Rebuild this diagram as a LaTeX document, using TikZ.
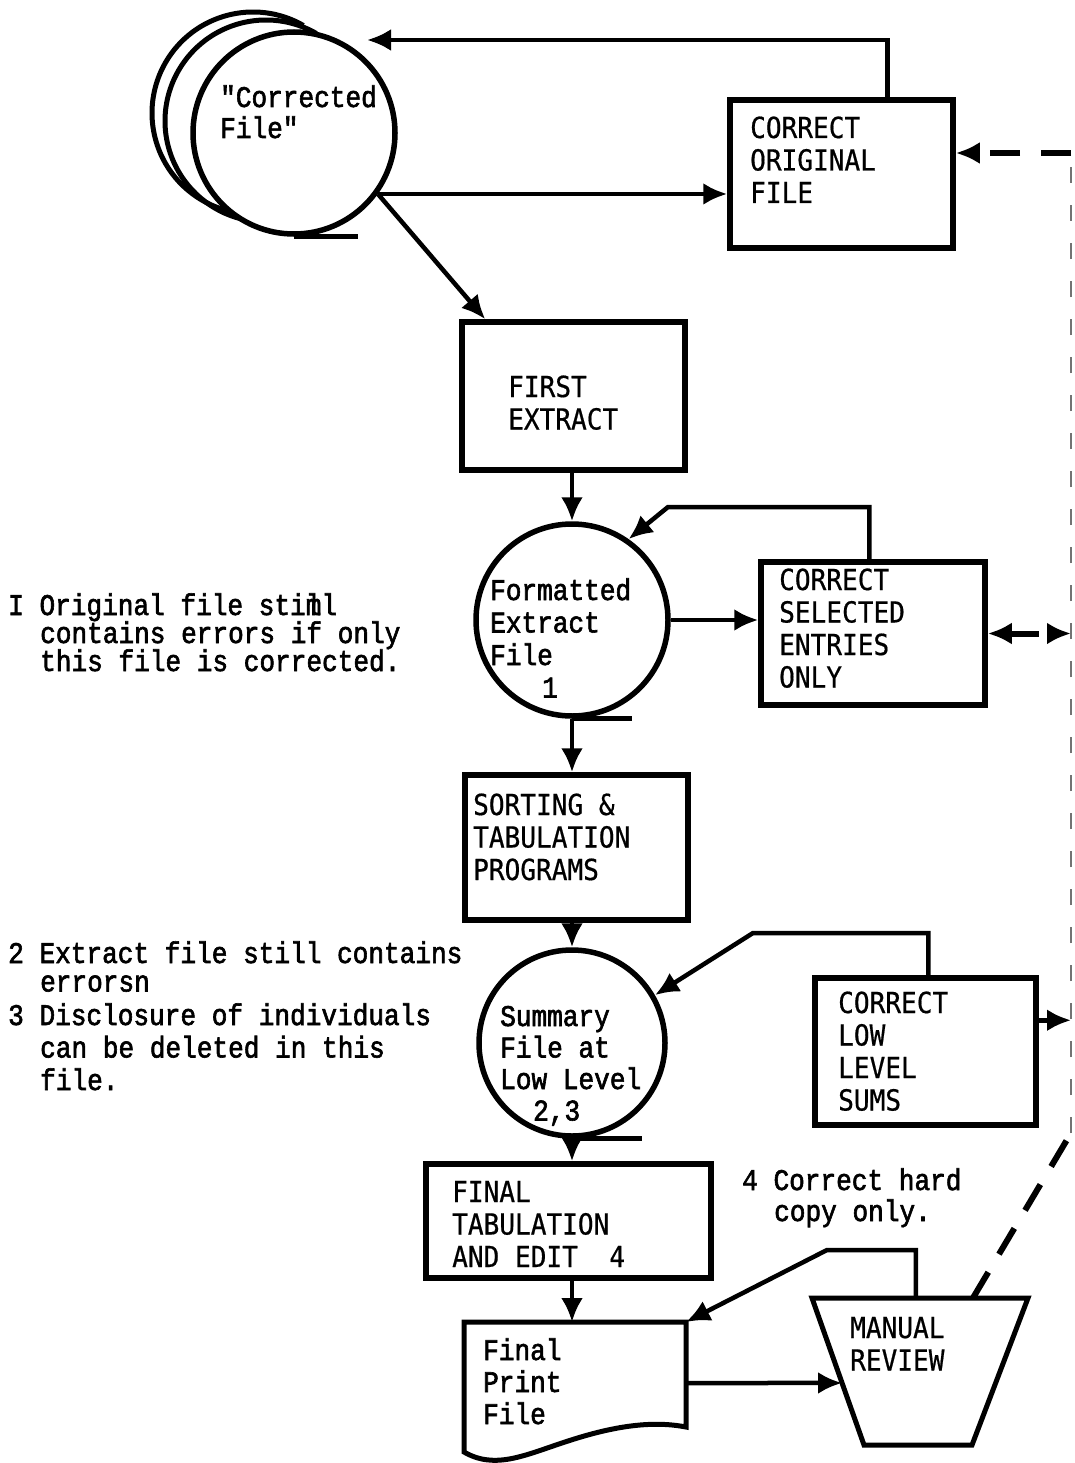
\documentclass[tikz,border=0pt]{standalone}
\usepackage{fontspec}
\usetikzlibrary{arrows.meta,calc}
\newfontfamily\typew[FakeStretch=0.87,FakeBold=2]{Liberation Mono}
\newfontfamily\capsmono[FakeStretch=0.9,FakeBold=0.6]{DejaVu Sans Mono}

\tikzset{
  pbox/.style={draw, line width=5.5pt, inner sep=0pt, fill=white},
  filecirc/.style={draw, circle, line width=5.5pt, inner sep=0pt, fill=white},
  tip/.tip={Latex[length=24pt,width=22pt]},
  flow/.style={line width=4.5pt, -tip},
  plain/.style={line width=5pt},
  % multi-line texts are anchored at the baseline of their last line
  boxtext/.style={anchor=base west, inner sep=0pt, align=left,
    font=\capsmono\fontsize{29}{32.5}\selectfont},
  typetext/.style={anchor=base west, inner sep=0pt, align=left,
    font=\typew\fontsize{30}{31}\selectfont},
  bolddash/.style={line width=6pt, dash pattern=on 30pt off 21pt},
  faintdash/.style={line width=2.5pt, draw=black!55, dash pattern=on 16pt off 22pt},
}

\begin{document}
\begin{tikzpicture}[x=1pt,y=-1pt]
\fill[white] (0,0) rectangle (1075,1463);
\useasboundingbox (0,0) rectangle (1075,1463);

% ---- reel of tape: "Corrected File"
\draw[line width=5pt] (253,113) ++(-60:101) arc[start angle=-60, end angle=-262, radius=101];
\draw[line width=5pt] (266,121) ++(-60:101) arc[start angle=-60, end angle=-262, radius=101];
\node[filecirc, minimum size=202] (reel) at (294,133) {};
\draw[plain] (reel.south) -- ++(64,0);
\node[typetext] (reeltxt) at (220,138) {"Corrected\\File"};

% ---- process boxes
\node[pbox, minimum width=223, minimum height=148] (cof) at (841.5,174) {};
\node[boxtext] (coftxt) at (750,203) {CORRECT\\ORIGINAL\\FILE};

\node[pbox, minimum width=223, minimum height=148] (fe) at (573.5,396) {};
\node[boxtext] (fetxt) at (508,429.5) {FIRST\\EXTRACT};

\node[filecirc, minimum size=192] (fef) at (572,620) {};
\draw[plain] (fef.south) -- ++(60,0);
\node[typetext, font=\typew\fontsize{30}{32.5}\selectfont] (feftxt) at (490,697.5)
  {Formatted\\Extract\\File\\\hspace*{52pt}1};

\node[pbox, minimum width=224, minimum height=143] (cse) at (873,633.5) {};
\node[boxtext] (csetxt) at (779,687.5) {CORRECT\\SELECTED\\ENTRIES\\ONLY};

\node[pbox, minimum width=223, minimum height=145] (stp) at (576.5,847.5) {};
\node[boxtext] (stptxt) at (473,880) {SORTING \&\\TABULATION\\PROGRAMS};

\node[filecirc, minimum size=186] (sum) at (572,1043) {};
\draw[plain] (sum.south) -- ++(70,0);
\node[typetext, font=\typew\fontsize{30}{31.5}\selectfont] (sumtxt) at (500,1120.5)
  {Summary\\File at\\Low Level\\\hspace*{33pt}2,3};

\node[pbox, minimum width=221, minimum height=147] (clls) at (925.5,1051.5) {};
\node[boxtext] (cllstxt) at (838,1110.5) {CORRECT\\LOW\\LEVEL\\SUMS};

\node[pbox, minimum width=285, minimum height=114] (fte) at (568.5,1221) {};
\node[boxtext] (ftetxt) at (452,1267) {FINAL\\TABULATION\\AND EDIT\ \ 4};

% ---- printed document
\coordinate (docTL) at (464,1322);
\coordinate (docTR) at (686,1322);
\draw[line width=5pt, fill=white] (docTL) -- (464,1452)
  .. controls (495,1470) and (525,1455) .. (565,1442)
  .. controls (610,1427) and (650,1420) .. (686,1427) -- (docTR) -- cycle;
\node[typetext, font=\typew\fontsize{30}{32}\selectfont] (fpf) at (483,1424) {Final\\Print\\File};

% ---- manual operation
\coordinate (mrTL) at (812,1298);
\coordinate (mrTR) at (1028,1298);
\coordinate (mrBR) at (972,1445);
\coordinate (mrBL) at (864,1445);
\draw[line width=5pt] (mrTL) -- (mrTR) -- (mrBR) -- (mrBL) -- cycle;
\node[boxtext] (mr) at (850,1370.5) {MANUAL\\REVIEW};

% ---- notes
\node[typetext, font=\typew\fontsize{30}{28}\selectfont] (n1) at (8,671)
  {I Original file sti\rlap{l}ml\\\hspace*{32pt}contains errors if only\\\hspace*{32pt}this file is corrected.};
\node[typetext, font=\typew\fontsize{30}{28.5}\selectfont] (n2) at (8,991.5)
  {2 Extract file still contains\\\hspace*{32pt}errorsn};
\node[typetext, font=\typew\fontsize{30}{32.5}\selectfont] (n3) at (8,1090)
  {3 Disclosure of individuals\\\hspace*{32pt}can be deleted in this\\\hspace*{32pt}file.};
\node[typetext] (n4) at (742,1221) {4 Correct hard\\\hspace*{32pt}copy only.};

% ---- solid flow lines
\coordinate (reelin) at (367,40);
\draw[flow] ($(cof.north west)+(160,0)$) |- (reelin);
\draw[flow] (reel.-36) -- (reel.-36 -| cof.west);
\draw[flow] (reel.-36) -- ($(fe.north west)+(26,0)$);
\draw[flow] (fef.north |- fe.south) -- (fef.north);

\coordinate (k1) at (668,507);
\draw[flow] ($(cse.north west)+(111,0)$) |- (k1) -- (fef.55);
\draw[flow] (fef.east) -- (fef.east -| cse.west);
\draw[flow] (fef.south) -- (fef.south |- stp.north);
\draw[flow] (sum.north |- stp.south) -- (sum.north);

\coordinate (k2) at (753,933);
\draw[flow] ($(clls.north west)+(116,0)$) |- (k2) -- (sum.30);
\draw[flow] (sum.south) -- (sum.south |- fte.north);
\draw[flow] (sum.south |- fte.south) -- (sum.south |- docTL);

\draw[flow] ($(docTR)+(0,61)$) -- ($(mrTL)!0.578!(mrBL)$);
\coordinate (k3) at (827,1250);
\draw[flow] ($(mrTL)!0.481!(mrTR)$) |- (k3) -- (docTR);

% ---- dashed correction paths
\coordinate (dA) at (1071,1133);
\coordinate (dB) at (1071,153);
\draw[bolddash] ($(mrTL)!0.745!(mrTR)$) -- (dA);
\draw[faintdash] (dA) -- (dB);
\draw[bolddash, -tip] (dB) -- (dB -| cof.east);
\draw[bolddash, tip-tip] (cse.east) -- (cse.east -| dB);
\coordinate (cllsout) at ($(clls.north east)+(0,45)$);
\draw[flow] (cllsout) -- (cllsout -| dB);
\end{tikzpicture}
\end{document}
